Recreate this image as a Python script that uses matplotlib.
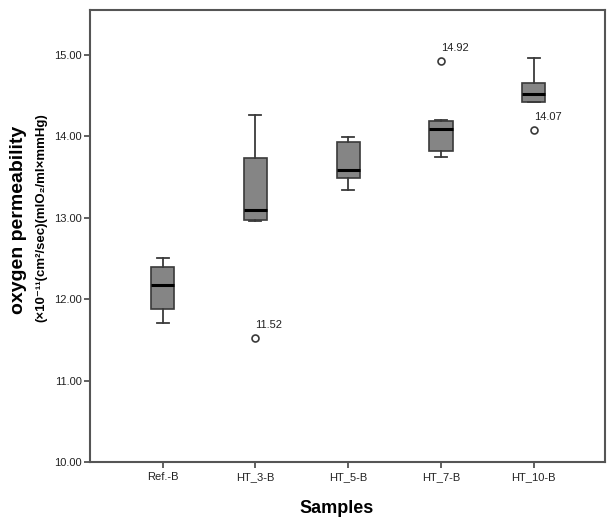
import matplotlib.pyplot as plt

# box statistics
samples = ['Ref.-B', 'HT_3-B', 'HT_5-B', 'HT_7-B', 'HT_10-B']
whis_lo = [11.71, 12.96, 13.34, 13.75, 14.42]
q1 = [11.88, 12.97, 13.49, 13.82, 14.42]
median = [12.17, 13.09, 13.59, 14.09, 14.52]
q3 = [12.39, 13.73, 13.93, 14.19, 14.65]
whis_hi = [12.51, 14.26, 13.99, 14.20, 14.96]
outliers = [[], [11.52], [], [14.92], [14.07]]

plt.rcParams['font.family'] = ['Liberation Sans', 'DejaVu Sans']

stats = []
for i in range(len(samples)):
    stats.append({'label': samples[i], 'whislo': whis_lo[i], 'q1': q1[i], 'med': median[i],
                  'q3': q3[i], 'whishi': whis_hi[i], 'fliers': outliers[i]})

fig = plt.figure(figsize=(6.07, 5.22), dpi=100)
ax = fig.add_axes([0.148, 0.115, 0.849, 0.866])

edge = '#3a3a3a'
ax.bxp(stats, positions=range(1, 6), widths=0.25, patch_artist=True,
       boxprops=dict(facecolor='#858585', edgecolor=edge, linewidth=1.2),
       medianprops=dict(color='black', linewidth=2.2),
       whiskerprops=dict(color=edge, linewidth=1.3),
       capprops=dict(color=edge, linewidth=1.3), capwidths=0.13,
       flierprops=dict(marker='o', markerfacecolor='white', markeredgecolor=edge,
                       markersize=5, markeredgewidth=1.2))

for i, pts in enumerate(outliers):
    for v in pts:
        ax.annotate(f'{v:.2f}', (i + 1, v), xytext=(0, 6), textcoords='offset points',
                    fontsize=8, color='#222222', ha='left', va='bottom')

ax.set_xlim(0.215, 5.77)
ax.set_ylim(10, 15.55)
ax.set_yticks([10, 11, 12, 13, 14, 15])
ax.set_yticklabels([f'{t:.2f}' for t in [10, 11, 12, 13, 14, 15]])
ax.set_xticks(range(1, 6))
ax.set_xticklabels(samples)
ax.tick_params(axis='both', labelsize=8, colors='#444444', labelcolor='#222222',
               length=4, width=1.2, direction='out')
ax.tick_params(axis='y', pad=1.5)

for sp in ax.spines.values():
    sp.set_color('#555555')
    sp.set_linewidth(1.5)

ax.set_xlabel('Samples', fontsize=13, fontweight='bold', labelpad=14)
ax.xaxis.set_label_coords(0.478, -0.085)
fig.text(0.031, 0.579, 'oxygen permeability', rotation=90, fontsize=14,
         fontweight='bold', ha='center', va='center')
fig.text(0.068, 0.584, '(×10⁻¹¹(cm²/sec)(mlO₂/ml×mmHg)', rotation=90, fontsize=9.5,
         fontweight='bold', ha='center', va='center')

fig.savefig('out.png', dpi=100)
